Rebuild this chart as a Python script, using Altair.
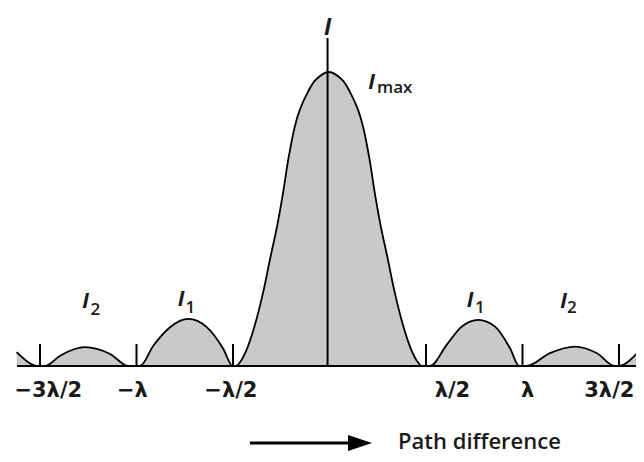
import altair as alt
import pandas as pd

# Intensity: x = path difference (in units of λ), y = I / Imax
# central maximum
central_x = [-0.480, -0.456, -0.423, -0.389, -0.345, -0.309, -0.272, -0.241, -0.214, -0.180, -0.154,
             -0.115, -0.072, -0.003,
             0.066, 0.109, 0.148, 0.174, 0.208, 0.235, 0.266, 0.303, 0.339, 0.383, 0.417, 0.450, 0.474]
central_y = [0.0, 0.020, 0.066, 0.134, 0.247, 0.361, 0.474, 0.587, 0.701, 0.814, 0.871,
             0.928, 0.973, 1.0,
             0.973, 0.928, 0.871, 0.814, 0.701, 0.587, 0.474, 0.361, 0.247, 0.134, 0.066, 0.020, 0.0]
# secondary maxima (I1, I2) and the edges of the next ones
side_x = [-1.621, -1.509, -1.474, -1.396, -1.267, -1.137, -1.042,
          -0.982, -0.913, -0.826, -0.732, -0.636, -0.550, -0.502,
          0.521, 0.607, 0.685, 0.771, 0.858, 0.935, 0.983,
          1.022, 1.142, 1.272, 1.384, 1.479,
          1.495, 1.609]
side_y = [0.047, 0.0, 0.0, 0.035, 0.064, 0.041, 0.0,
          0.0, 0.069, 0.132, 0.160, 0.132, 0.058, 0.0,
          0.0, 0.072, 0.134, 0.157, 0.134, 0.061, 0.0,
          0.0, 0.044, 0.066, 0.044, 0.0,
          0.0, 0.055]

# Tick marks and their labels
tick_values = [-1.5, -1.0, -0.5, 0.5, 1.0, 1.5]
tick_labels = ["\u22123\u03bb/2", "\u2212\u03bb", "\u2212\u03bb/2", "\u03bb/2", "\u03bb", "3\u03bb/2"]
tick_label_x = [-1.457, -1.021, -0.511, 0.637, 1.026, 1.450]

# Peak annotations (I with subscript)
peak_names = ["2", "1", "1", "2", "max"]
peak_I_x = [-1.264, -0.769, 0.728, 1.213, 0.218]
peak_I_y = [0.197, 0.204, 0.202, 0.196, 0.942]
peak_sub_x = [-1.238, -0.746, 0.754, 1.231, 0.246]
peak_sub_y = [0.173, 0.180, 0.179, 0.179, 0.929]

W, H = 628, 446
XDOM = [-321.5 / 193, (W - 321.5) / 193]
YDOM = [(358 - H) / 294, 358 / 294]
xs = alt.Scale(domain=XDOM, nice=False, zero=False)
ys = alt.Scale(domain=YDOM, nice=False, zero=False)

FILL = "#b2b2b2"
INK = "#1a1a1a"

side = alt.Chart(pd.DataFrame({"x": side_x, "y": side_y})).mark_area(
    interpolate="monotone", color=FILL, clip=True,
    line={"color": "black", "strokeWidth": 1.8}
).encode(
    x=alt.X("x:Q", scale=xs, axis=None),
    y=alt.Y("y:Q", scale=ys, axis=None),
)

central = alt.Chart(pd.DataFrame({"x": central_x, "y": central_y})).mark_area(
    interpolate="catmull-rom", color=FILL, clip=True,
    line={"color": "black", "strokeWidth": 1.8}
).encode(
    x=alt.X("x:Q", scale=xs, axis=None),
    y=alt.Y("y:Q", scale=ys, axis=None),
)

axis_line = alt.Chart(pd.DataFrame({"x": [-1.619], "x2": [XDOM[1]], "y": [0.0]})).mark_rule(
    color="black", strokeWidth=2.2
).encode(x=alt.X("x:Q", scale=xs), x2="x2:Q", y=alt.Y("y:Q", scale=ys))

tick_rules = alt.Chart(pd.DataFrame({"x": tick_values})).mark_rule(color="black", strokeWidth=2).encode(
    x=alt.X("x:Q", scale=xs), y=alt.datum(0.0, scale=ys), y2=alt.datum(0.075)
)

center_line = alt.Chart(pd.DataFrame({"x": [-0.010], "y": [0.0], "y2": [1.116]})).mark_rule(
    color="black", strokeWidth=2
).encode(x=alt.X("x:Q", scale=xs), y=alt.Y("y:Q", scale=ys), y2="y2:Q")

tick_text = alt.Chart(pd.DataFrame({"x": tick_label_x, "t": tick_labels})).mark_text(
    font="DejaVu Sans", fontSize=21, fontWeight="bold", baseline="middle", align="center", color=INK
).encode(x=alt.X("x:Q", scale=xs), y=alt.datum(-0.085, scale=ys), text="t:N")

I_text = alt.Chart(pd.DataFrame({"x": peak_I_x, "y": peak_I_y, "t": ["I"] * len(peak_I_x)})).mark_text(
    font="Open Sans", fontSize=21, fontStyle="italic", fontWeight="bold", baseline="alphabetic",
    align="center", color=INK
).encode(x=alt.X("x:Q", scale=xs), y=alt.Y("y:Q", scale=ys), text="t:N")

sub_text = alt.Chart(pd.DataFrame({"x": peak_sub_x, "y": peak_sub_y, "t": peak_names})).mark_text(
    font="Open Sans", fontSize=17, fontWeight=600, baseline="alphabetic", align="left", color=INK
).encode(x=alt.X("x:Q", scale=xs), y=alt.Y("y:Q", scale=ys), text="t:N")

top_I = alt.Chart(pd.DataFrame({"x": [-0.010], "y": [1.150], "t": ["I"]})).mark_text(
    font="Open Sans", fontSize=23, fontStyle="italic", fontWeight="bold", baseline="middle",
    align="center", color=INK
).encode(x=alt.X("x:Q", scale=xs), y=alt.Y("y:Q", scale=ys), text="t:N")

arrow_line = alt.Chart(pd.DataFrame({"x": [-0.412], "x2": [0.12], "y": [-0.262]})).mark_rule(
    color="black", strokeWidth=3
).encode(x=alt.X("x:Q", scale=xs), x2="x2:Q", y=alt.Y("y:Q", scale=ys))

arrow_head = alt.Chart(pd.DataFrame({"x": [0.158], "y": [-0.262]})).mark_point(
    shape="M -1 -0.67 L 1 0 L -1 0.67 Z", size=576, filled=True, color="black", opacity=1
).encode(x=alt.X("x:Q", scale=xs), y=alt.Y("y:Q", scale=ys))

path_text = alt.Chart(pd.DataFrame({"x": [0.355], "y": [-0.259], "t": ["Path difference"]})).mark_text(
    font="Open Sans", fontSize=22, fontWeight=600, baseline="middle", align="left", color=INK
).encode(x=alt.X("x:Q", scale=xs), y=alt.Y("y:Q", scale=ys), text="t:N")

chart = alt.layer(
    side, central, axis_line, tick_rules, center_line, tick_text, I_text, sub_text, top_I,
    arrow_line, arrow_head, path_text
).properties(
    width=W, height=H, padding=0,
    autosize=alt.AutoSizeParams(type="none"),
    background="white",
).configure_view(stroke=None)

chart.save("out.html", embed_options={"renderer": "svg", "actions": False})
